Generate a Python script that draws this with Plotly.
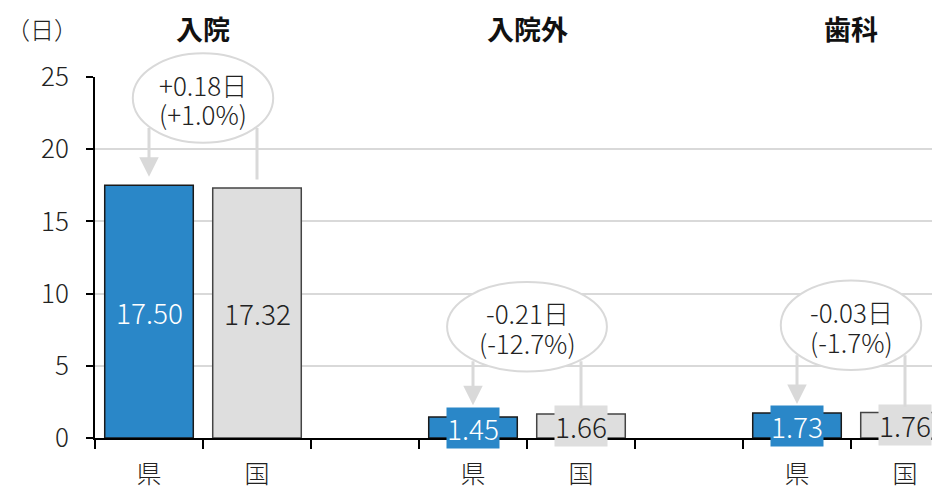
import plotly.graph_objects as go

# ---- data ----
groups = ["入院", "入院外", "歯科"]
pref_label = "県"
nat_label = "国"
pref_values = [17.50, 1.45, 1.73]
nat_values = [17.32, 1.66, 1.76]
diff_labels = ["+0.18日", "-0.21日", "-0.03日"]
pct_labels = ["(+1.0%)", "(-12.7%)", "(-1.7%)"]
y_ticks = [0, 5, 10, 15, 20, 25]
unit_label = "（日）"

FONT = "Noto Sans CJK JP"
BLUE = "#2A87C8"
GRAY = "#DEDEDE"
LINE = "#D9D9D9"
TXT = "#222222"
W = 300

YMAX = 25
XMIN, XMAX = -0.5, -0.5 + 845 / 108

pref_x = [3 * i for i in range(len(groups))]
nat_x = [3 * i + 1 for i in range(len(groups))]
centers = [3 * i + 0.5 for i in range(len(groups))]

fig = go.Figure()
fig.add_bar(x=pref_x, y=pref_values, width=0.82, marker=dict(color=BLUE, line=dict(color="#1a1a1a", width=1.5)),
            hoverinfo="skip")
fig.add_bar(x=nat_x, y=nat_values, width=0.82, marker=dict(color=GRAY, line=dict(color="#444444", width=1.5)),
            hoverinfo="skip")

annotations = []
shapes = []

def xp(x):
    return (x - XMIN) / (XMAX - XMIN)

def yp(y):
    return y / YMAX

for i, g in enumerate(groups):
    # value labels
    for x, v, bg, fc in [(pref_x[i], pref_values[i], BLUE, "white"), (nat_x[i], nat_values[i], GRAY, TXT)]:
        annotations.append(dict(x=x, y=v / 2, xref="x", yref="y", text=f"{v:.2f}", showarrow=False,
                                font=dict(family=FONT, size=28, color=fc, weight=W), bgcolor=bg, borderpad=0,
                                yanchor="middle"))
    # group title
    annotations.append(dict(x=centers[i], y=1.135, xref="x", yref="paper", text=f"<b>{g}</b>", showarrow=False,
                            font=dict(family=FONT, size=27, color="#111111"), yanchor="middle"))
    # callout
    top = max(pref_values[i], nat_values[i])
    cy = top + 6.05
    a = 0.09 * len(pct_labels[i]) + 0.02
    b = 3.1
    dx = 0.5
    start_off = b * (1 - (dx / a) ** 2) ** 0.5
    tip = top + 0.6
    annotations.append(dict(x=pref_x[i], y=tip, ax=pref_x[i], ay=cy - start_off, xref="x", yref="y",
                            axref="x", ayref="y", text="", showarrow=True, arrowhead=2, arrowsize=1.3,
                            arrowwidth=3, arrowcolor=LINE))
    annotations.append(dict(x=nat_x[i], y=top + 0.4, ax=nat_x[i], ay=cy - start_off, xref="x", yref="y",
                            axref="x", ayref="y", text="", showarrow=True, arrowhead=0,
                            arrowwidth=3, arrowcolor=LINE))
    shapes.append(dict(type="circle", xref="paper", yref="paper",
                       x0=xp(centers[i] - a), x1=xp(centers[i] + a), y0=yp(cy - b), y1=yp(cy + b),
                       fillcolor="white", line=dict(color=LINE, width=2), layer="above"))
    for txt, off in [(diff_labels[i], 0.95), (pct_labels[i], -1.1)]:
        annotations.append(dict(x=centers[i], y=cy + off, xref="x", yref="y",
                                text=txt, showarrow=False,
                                font=dict(family=FONT, size=26, color=TXT, weight=W), yanchor="middle"))

annotations.append(dict(x=-0.0627, y=1.135, xref="paper", yref="paper", text=unit_label, showarrow=False,
                        xanchor="center", font=dict(family=FONT, size=24, color=TXT, weight=W), yanchor="middle"))

tick_vals = pref_x + nat_x
tick_text = [pref_label] * len(pref_x) + [nat_label] * len(nat_x)
boundaries = [k - 0.5 for k in range(0, 3 * len(groups) + 1)]

fig.update_layout(
    width=940, height=486,
    margin=dict(l=87, r=8, t=69, b=56),
    plot_bgcolor="white", paper_bgcolor="white",
    showlegend=False, barmode="overlay",
    font=dict(family=FONT, size=24, color=TXT),
    annotations=annotations, shapes=shapes,
    xaxis=dict(range=[XMIN, XMAX], tickvals=tick_vals, ticktext=tick_text, ticks="",
               showline=True, linecolor="black", linewidth=2, showgrid=False, zeroline=False,
               automargin=False, ticklabelstandoff=13,
               tickfont=dict(family=FONT, size=25, color=TXT, weight=W),
               minor=dict(tickvals=boundaries, ticks="outside", ticklen=9, tickwidth=2,
                          tickcolor="black", showgrid=False)),
    yaxis=dict(range=[0, YMAX], tickvals=y_ticks, ticks="outside", ticklen=7, tickwidth=2,
               tickcolor="black", showline=True, linecolor="black", linewidth=2,
               showgrid=True, gridcolor=LINE, gridwidth=2, zeroline=False, automargin=False,
               ticklabelstandoff=12,
               tickfont=dict(family=FONT, size=26, color=TXT, weight=W)),
)

fig.write_html("out.html")
